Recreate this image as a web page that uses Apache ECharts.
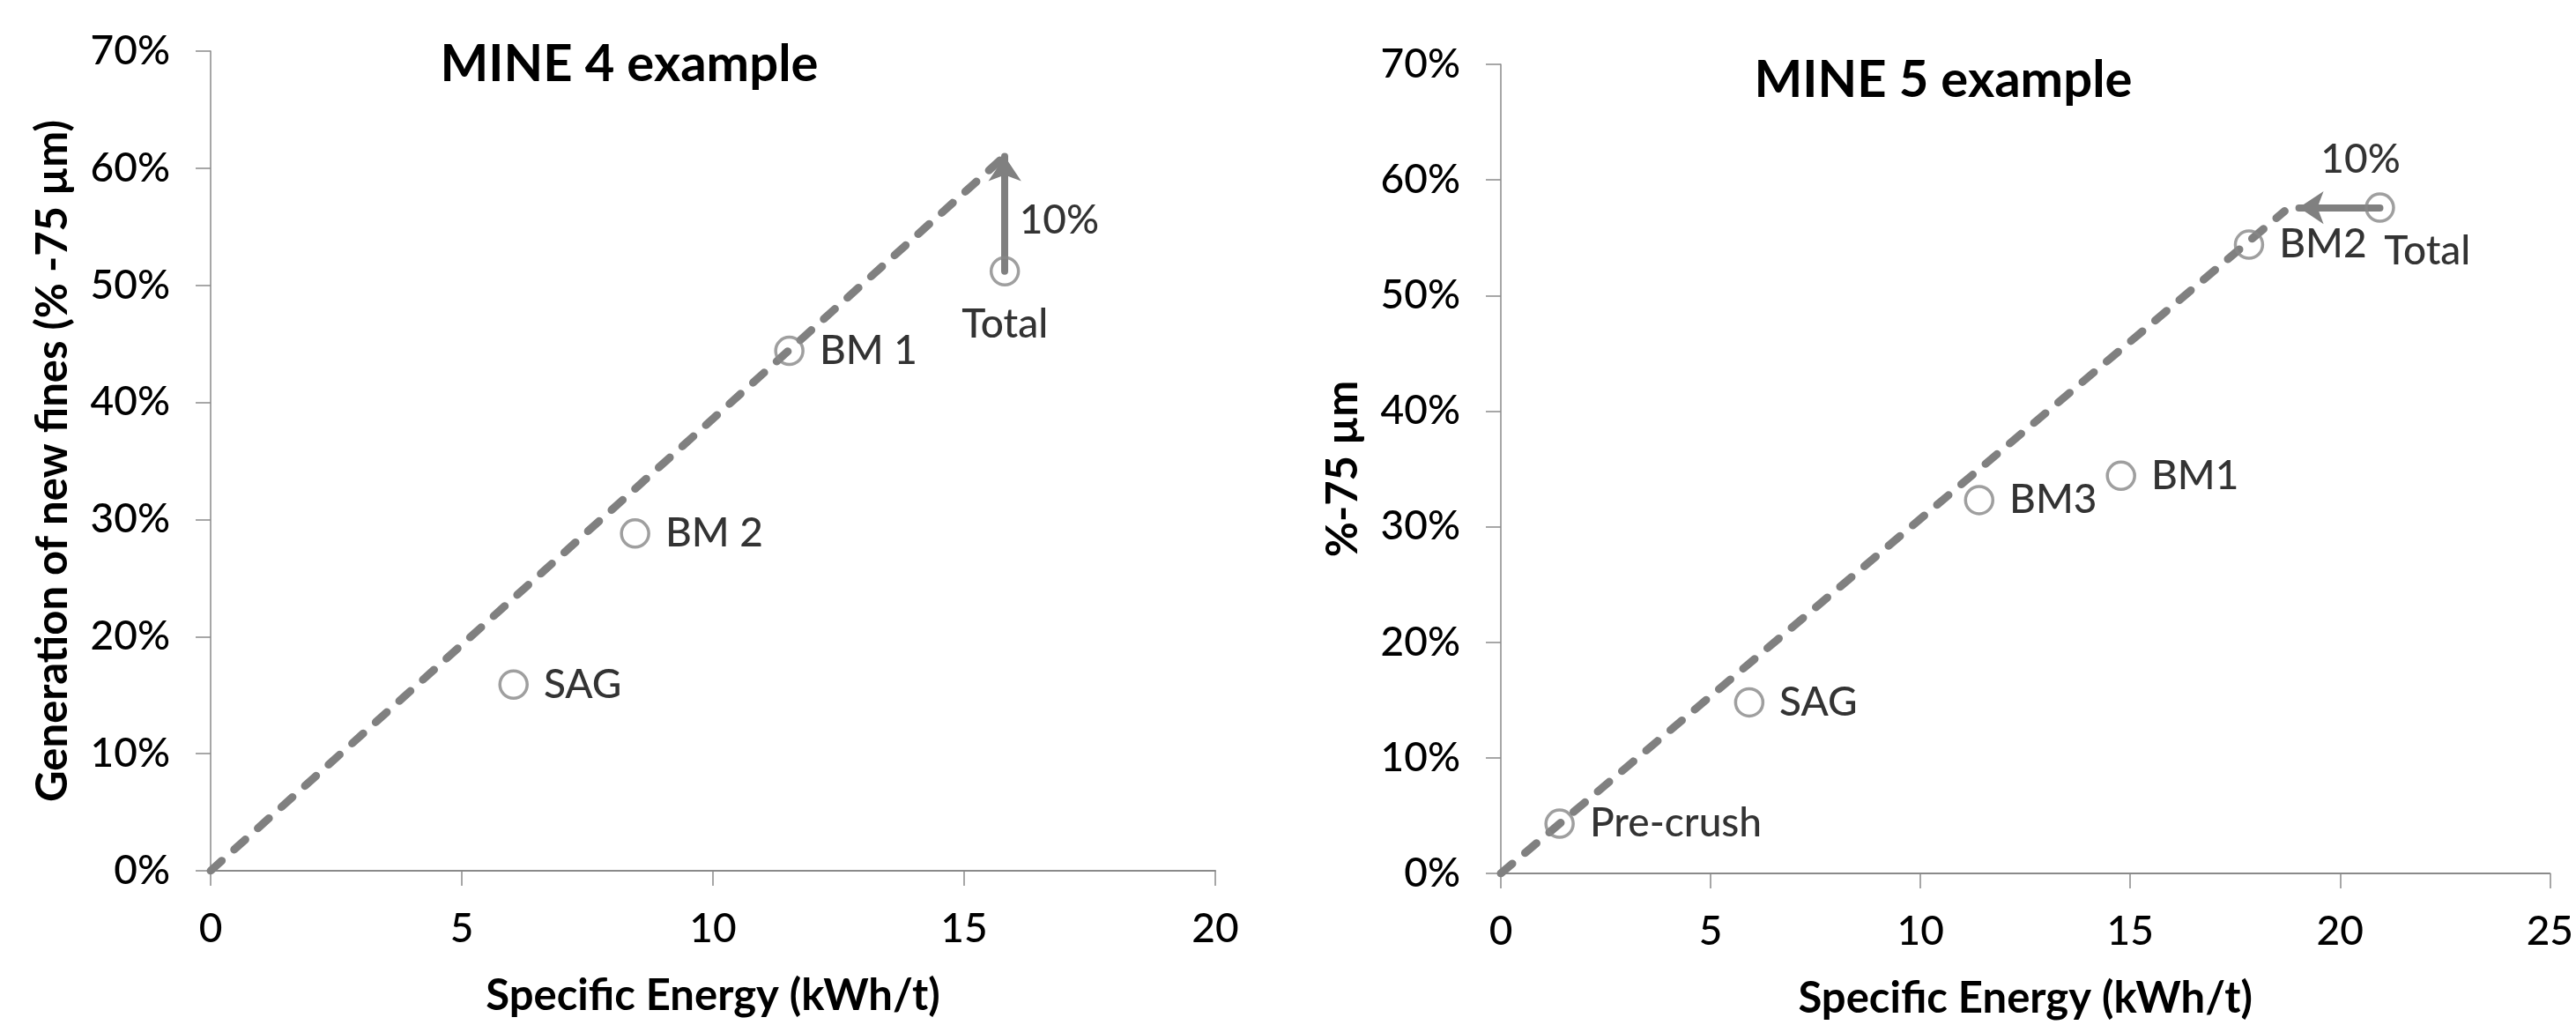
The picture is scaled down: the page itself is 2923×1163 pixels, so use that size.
<!DOCTYPE html>
<html>
<head>
<meta charset="utf-8">
<script src="https://cdn.jsdelivr.net/npm/echarts@6/dist/echarts.min.js"></script>
<style>
html,body{margin:0;padding:0;background:#fff;}
#c{width:2923px;height:1163px;}
</style>
</head>
<body>
<div id="c"></div>
<script>
// ---------- DATA ----------
// MINE 4
const mine4Title = 'MINE 4 example';
const mine4Names = ['SAG', 'BM 2', 'BM 1', 'Total'];
const mine4Energy = [6.03, 8.45, 11.52, 15.81];
const mine4Fines = [15.9, 28.8, 44.4, 51.2];
const mine4FitLine = [[0, 0], [15.8, 61.0]];
const mine4Arrow = [[15.81, 51.2], [15.81, 61.0]];
const mine4XMax = 20;
const mine4YName = 'Generation of new fines (% -75 µm)';

// MINE 5
const mine5Title = 'MINE 5 example';
const mine5Names = ['Pre-crush', 'SAG', 'BM3', 'BM1', 'BM2', 'Total'];
const mine5Energy = [1.40, 5.92, 11.40, 14.78, 17.83, 20.95];
const mine5Fines = [4.3, 14.8, 32.3, 34.4, 54.4, 57.6];
const mine5FitLine = [[0, 0], [18.68, 57.3]];
const mine5Arrow = [[20.95, 57.6], [19.02, 57.6]];
const mine5XMax = 25;
const mine5YName = '%-75 µm';

const arrowText = '10%';
const xName = 'Specific Energy (kWh/t)';
const yMin = 0, yMax = 70, yStep = 10;
const xStep = 5;

// ---------- STYLE ----------
const FONT = 'Lato, "Open Sans", sans-serif';
const LINE_GRAY = '#808080';
const MARK_GRAY = '#878787';
const AXIS_GRAY = '#8a8a8a';
const TICK_SIZE = 46, LABEL_SIZE = 46, NAME_SIZE = 49, TITLE_SIZE = 58;
const REG_WEIGHT = 500;

function pointData(names, xs, ys, overrides) {
  return names.map((n, i) => {
    const d = { name: n, value: [xs[i], ys[i]] };
    if (overrides[n]) d.label = overrides[n];
    return d;
  });
}
function midpoint(seg) {
  return [(seg[0][0] + seg[1][0]) / 2, (seg[0][1] + seg[1][1]) / 2];
}

function xAx(gridIndex, max) {
  return {
    type: 'value', gridIndex, min: 0, max, interval: xStep,
    name: xName, nameLocation: 'middle', nameGap: 118,
    nameTextStyle: { fontFamily: FONT, fontWeight: 'bold', fontSize: NAME_SIZE, color: '#000' },
    axisLine: { show: true, onZero: false, lineStyle: { color: AXIS_GRAY, width: 2 } },
    axisTick: { show: true, length: 17, lineStyle: { color: AXIS_GRAY, width: 1.5 } },
    axisLabel: { margin: 43, fontFamily: FONT, fontWeight: REG_WEIGHT, fontSize: TICK_SIZE, color: '#000' },
    splitLine: { show: false }
  };
}
function yAx(gridIndex, name) {
  return {
    type: 'value', gridIndex, min: yMin, max: yMax, interval: yStep,
    name, nameLocation: 'middle', nameGap: 154,
    nameTextStyle: { fontFamily: FONT, fontWeight: 'bold', fontSize: NAME_SIZE, color: '#000' },
    axisLine: { show: true, onZero: false, lineStyle: { color: AXIS_GRAY, width: 1.5 } },
    axisTick: { show: true, length: 17, lineStyle: { color: AXIS_GRAY, width: 1.5 } },
    axisLabel: { margin: 46, fontFamily: FONT, fontWeight: REG_WEIGHT, fontSize: TICK_SIZE, color: '#000', formatter: '{value}%' },
    splitLine: { show: false }
  };
}

function panelSeries(idx, names, xs, ys, fit, arrow, overrides, annoLabel) {
  return [
    {
      type: 'line', xAxisIndex: idx, yAxisIndex: idx, data: fit,
      symbol: 'none', silent: true, z: 2,
      lineStyle: { color: LINE_GRAY, width: 9, type: [17, 19], cap: 'round' }
    },
    {
      type: 'lines', coordinateSystem: 'cartesian2d', xAxisIndex: idx, yAxisIndex: idx,
      data: [{ coords: arrow }], symbol: ['none', 'arrow'], symbolSize: 28, silent: true, z: 3,
      lineStyle: { color: LINE_GRAY, width: 8, opacity: 1, curveness: 0, cap: 'round' }
    },
    {
      type: 'scatter', xAxisIndex: idx, yAxisIndex: idx, z: 4,
      data: pointData(names, xs, ys, overrides),
      symbol: 'circle', symbolSize: 31,
      itemStyle: { color: 'rgba(0,0,0,0)', borderColor: MARK_GRAY, borderWidth: 3.5 },
      label: { show: true, position: 'right', distance: 17, formatter: '{b}',
               fontFamily: FONT, fontWeight: REG_WEIGHT, fontSize: LABEL_SIZE, color: '#000' }
    },
    {
      type: 'scatter', xAxisIndex: idx, yAxisIndex: idx, z: 5, silent: true,
      data: [{ name: arrowText, value: midpoint(arrow) }],
      symbolSize: 1, itemStyle: { color: 'rgba(0,0,0,0)' },
      label: Object.assign({ show: true, formatter: '{b}', fontFamily: FONT, fontWeight: REG_WEIGHT,
                             fontSize: LABEL_SIZE, color: '#000' }, annoLabel)
    }
  ];
}

const chart = echarts.init(document.getElementById('c'));
chart.setOption({
  animation: false,
  backgroundColor: '#fff',
  title: [
    { text: mine4Title, left: 714, top: 73, padding: 0, textAlign: 'center', textVerticalAlign: 'middle',
      textStyle: { fontFamily: FONT, fontWeight: 'bold', fontSize: TITLE_SIZE, color: '#000' } },
    { text: mine5Title, left: 2205, top: 91, padding: 0, textAlign: 'center', textVerticalAlign: 'middle',
      textStyle: { fontFamily: FONT, fontWeight: 'bold', fontSize: TITLE_SIZE, color: '#000' } }
  ],
  grid: [
    { left: 239, top: 58, width: 1140, height: 930 },
    { left: 1703, top: 73, width: 1192, height: 930 }
  ],
  xAxis: [xAx(0, mine4XMax), xAx(1, mine5XMax)],
  yAxis: [yAx(0, mine4YName), yAx(1, mine5YName)],
  series: [].concat(
    panelSeries(0, mine4Names, mine4Energy, mine4Fines, mine4FitLine, mine4Arrow,
      { 'Total': { position: 'bottom', distance: 20 } },
      { position: 'right', distance: 16, offset: [0, 8] }),
    panelSeries(1, mine5Names, mine5Energy, mine5Fines, mine5FitLine, mine5Arrow,
      { 'Total': { position: [22, 67], align: 'left', verticalAlign: 'middle' } },
      { position: 'inside', offset: [24, -54] })
  )
});
</script>
</body>
</html>
